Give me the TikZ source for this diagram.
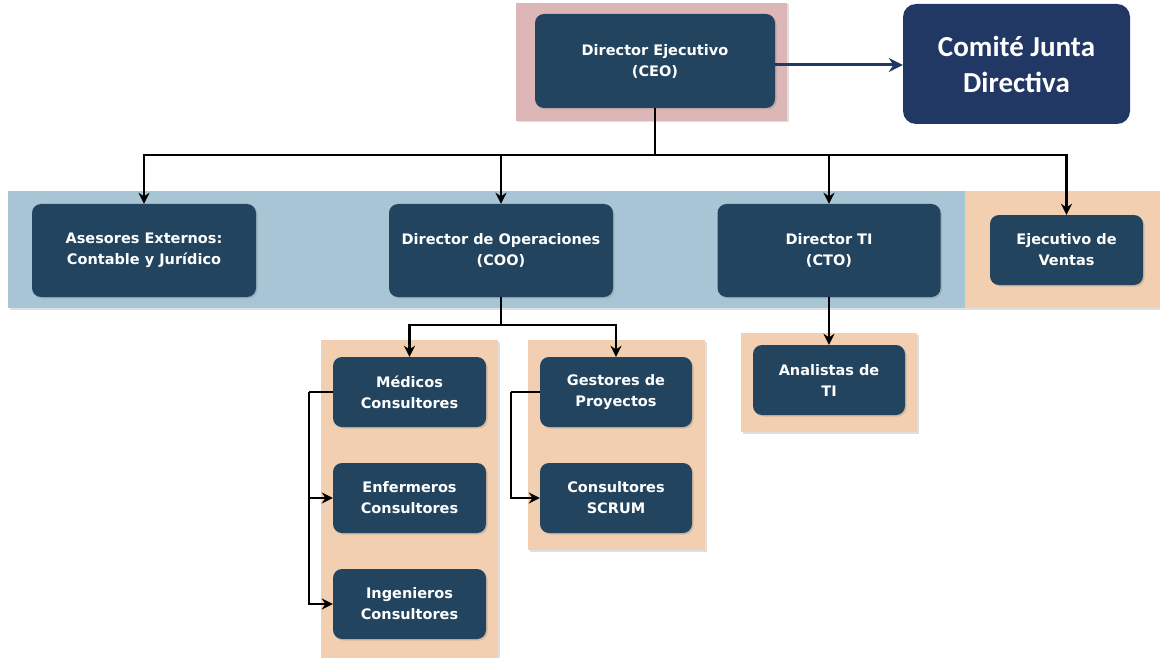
\documentclass[tikz,border=0pt]{standalone}
\usepackage{fontspec}
\setmainfont{DejaVu Sans}
\newfontfamily\calib{Carlito}
\usetikzlibrary{arrows.meta,shadows}
\definecolor{boxc}{HTML}{23445E}
\definecolor{navy}{HTML}{213764}
\definecolor{pinkb}{HTML}{DDB6B8}
\definecolor{blueb}{HTML}{A8C5D5}
\definecolor{orangeb}{HTML}{F3CFB1}
\tikzset{
  band/.style={draw=none, drop shadow={shadow xshift=1.5pt,shadow yshift=-1.5pt,opacity=0.25}},
  org/.style={fill=boxc, rounded corners=9pt, text=white, font=\bfseries\fontsize{14.5}{21}\selectfont, align=center, inner sep=0pt,
    drop shadow={shadow xshift=1.5pt,shadow yshift=-1.5pt,opacity=0.3}},
  link/.style={line width=2.5pt, -{Stealth[length=11pt,width=11pt]}},
  plain/.style={line width=2.5pt}
}
\begin{document}
\begin{tikzpicture}[x=1pt,y=-1pt]
\useasboundingbox (0,0) rectangle (1160,658);
% bands
\fill[pinkb, band] (516,3) rectangle (787,121);
\fill[blueb, band] (8,191) rectangle (965,308);
\fill[orangeb, band] (965,191) rectangle (1160,308);
\fill[orangeb, band] (321,340) rectangle (498,658);
\fill[orangeb, band] (528,340) rectangle (705,550);
\fill[orangeb, band] (741,333) rectangle (917,432);
% nodes
\node[org, minimum width=240pt, minimum height=94pt] (ceo) at (655,61) {Director Ejecutivo\\(CEO)};
\node[fill=navy, rounded corners=13pt, text=white, align=center, inner sep=0pt, minimum width=227pt, minimum height=120pt,
  font=\calib\bfseries\fontsize{29}{36}\selectfont] (com) at (1016.5,64) {Comité Junta\\Directiva};
\node[org, minimum width=224pt, minimum height=93pt] (ase) at (144,250.5) {Asesores Externos:\\Contable y Jurídico};
\node[org, minimum width=224pt, minimum height=93pt] (coo) at (501,250.5) {Director de Operaciones\\(COO)};
\node[org, minimum width=223pt, minimum height=93pt] (cto) at (829,250.5) {Director TI\\(CTO)};
\node[org, minimum width=153pt, minimum height=70pt] (ven) at (1066.5,250) {Ejecutivo de\\Ventas};
\node[org, minimum width=153pt, minimum height=70pt] (med) at (409.5,392) {Médicos\\Consultores};
\node[org, minimum width=153pt, minimum height=70pt] (enf) at (409.5,498) {Enfermeros\\Consultores};
\node[org, minimum width=153pt, minimum height=70pt] (ing) at (409.5,604) {Ingenieros\\Consultores};
\node[org, minimum width=152pt, minimum height=70pt] (ges) at (616,392) {Gestores de\\Proyectos};
\node[org, minimum width=152pt, minimum height=70pt] (scr) at (616,498) {Consultores\\SCRUM};
\node[org, minimum width=152pt, minimum height=70pt] (ana) at (829,380) {Analistas de\\TI};
% connectors
\coordinate (hub) at (655,155);
\draw[plain] (ceo.south) -- (hub);
\draw[link] (hub) -| (ase.north);
\draw[link] (hub) -| (coo.north);
\draw[link] (hub) -| (cto.north);
\draw[link] (hub) -| (ven.north);
\draw[line width=3pt, draw=navy, -{Stealth[length=14pt,width=14pt]}] ([yshift=-4pt]ceo.east) -- ([yshift=-4pt]ceo.east -| com.west);
\coordinate (hub2) at (501,325);
\draw[plain] (coo.south) -- (hub2);
\draw[link] (hub2) -| (med.north);
\draw[link] (hub2) -| (ges.north);
\draw[link] (cto.south) -- (ana.north);
\coordinate (ml) at (309,392);
\draw[plain] (med.west) -- (ml);
\draw[link] (ml) |- (enf.west);
\draw[link] (ml) |- (ing.west);
\coordinate (gl) at (511,392);
\draw[plain] (ges.west) -- (gl);
\draw[link] (gl) |- (scr.west);
\end{tikzpicture}
\end{document}
